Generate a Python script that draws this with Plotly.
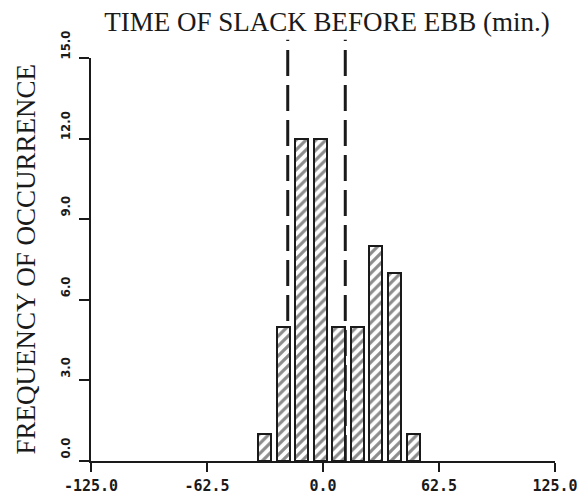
import plotly.graph_objects as go

# Histogram of slack-before-ebb timing (minutes), 10-minute bins
bin_centers = [-31.5, -21.5, -11.5, -1.5, 8.5, 18.5, 28.5, 38.5, 48.5]
counts = [1, 5, 12, 12, 5, 5, 8, 7, 1]
bar_width = 7

# Dashed reference limits (minutes)
limit_lines = [-19, 12]

x_ticks = [-125, -62.5, 0, 62.5, 125]
x_labels = ["-125.0", "-62.5", "0.0", "62.5", "125.0"]
y_ticks = [0, 3, 6, 9, 12, 15]
y_labels = ["0.0", "3.0", "6.0", "9.0", "12.0", "15.0"]

INK = "#1a1a1a"

fig = go.Figure()
fig.add_trace(go.Bar(
    x=bin_centers,
    y=counts,
    width=bar_width,
    marker=dict(
        color="white",
        line=dict(color=INK, width=2),
        pattern=dict(shape="/", size=7, solidity=0.45, fgcolor=INK, bgcolor="white"),
    ),
    showlegend=False,
))

for xv in limit_lines:
    fig.add_shape(
        type="line", xref="x", yref="paper",
        x0=xv, x1=xv, y0=0, y1=1.045,
        line=dict(color=INK, width=3, dash="26px,9px"),
        layer="below",
    )

fig.update_layout(
    width=580, height=495,
    margin=dict(l=91, r=25, t=58, b=34),
    paper_bgcolor="white", plot_bgcolor="white",
    bargap=0,
    title=dict(
        text="TIME OF SLACK BEFORE EBB (min.)",
        font=dict(family="Liberation Serif", size=27, color=INK),
        x=0.5086, xanchor="center", xref="paper",
        y=1 - 22 / 495, yanchor="middle",
    ),
    xaxis=dict(
        range=[-125, 125],
        tickvals=x_ticks, ticktext=x_labels,
        ticks="outside", ticklen=9, tickwidth=2, tickcolor=INK,
        showline=True, linewidth=2, linecolor=INK,
        showgrid=False, zeroline=False,
        tickfont=dict(family="DejaVu Sans Mono", size=15, color=INK, weight="bold"),
        ticklabelstandoff=1,
        automargin=False,
    ),
    yaxis=dict(
        range=[0, 15],
        tickvals=y_ticks, ticktext=y_labels,
        tickangle=-90,
        ticks="outside", ticklen=10, tickwidth=2, tickcolor=INK,
        showline=True, linewidth=2, linecolor=INK,
        showgrid=False, zeroline=False,
        tickfont=dict(family="DejaVu Sans Condensed", size=13, color=INK, weight="bold"),
        ticklabelshift=-11,
        ticklabelstandoff=4,
        automargin=False,
    ),
    annotations=[dict(
        text="FREQUENCY OF OCCURRENCE",
        xref="paper", yref="paper",
        x=(25 - 91) / 464, y=0.5,
        xanchor="center", yanchor="middle",
        textangle=-90, showarrow=False,
        font=dict(family="Liberation Serif", size=27, color=INK),
    )],
)

fig.write_html("out.html")
